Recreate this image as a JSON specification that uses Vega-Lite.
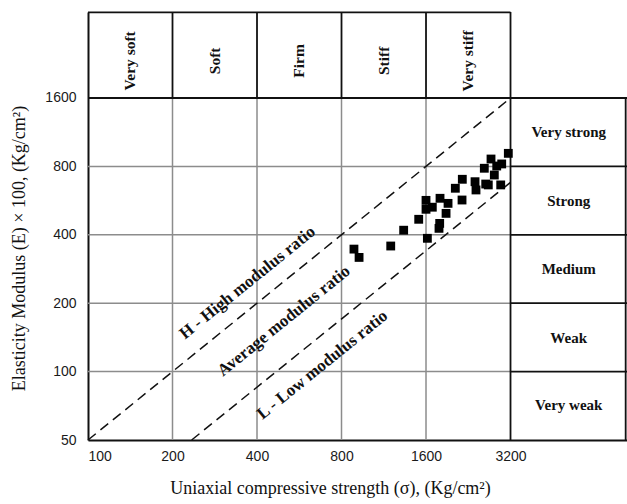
{
  "$schema": "https://vega.github.io/schema/vega-lite/v6.json",
  "width": 539,
  "height": 428,
  "autosize": {"type": "none"},
  "padding": {"left": 88, "top": 12, "right": 0, "bottom": 64},
  "background": "white",
  "config": {"view": {"stroke": null}},
  "datasets": {
    "grid": [
      {"x": 200, "y": 50, "x2": 200, "y2": 1600},
      {"x": 400, "y": 50, "x2": 400, "y2": 1600},
      {"x": 800, "y": 50, "x2": 800, "y2": 1600},
      {"x": 1600, "y": 50, "x2": 1600, "y2": 1600},
      {"x": 100, "y": 100, "x2": 3200, "y2": 100},
      {"x": 100, "y": 200, "x2": 3200, "y2": 200},
      {"x": 100, "y": 400, "x2": 3200, "y2": 400},
      {"x": 100, "y": 800, "x2": 3200, "y2": 800}
    ],
    "frame": [
      {"x": 200, "y": 1600, "x2": 200, "y2": 3824},
      {"x": 400, "y": 1600, "x2": 400, "y2": 3824},
      {"x": 800, "y": 1600, "x2": 800, "y2": 3824},
      {"x": 1600, "y": 1600, "x2": 1600, "y2": 3824},
      {"x": 3200, "y": 50, "x2": 3200, "y2": 3824},
      {"x": 100, "y": 3810, "x2": 3200, "y2": 3810},
      {"x": 100, "y": 1600, "x2": 8320, "y2": 1600},
      {"x": 3200, "y": 800, "x2": 8320, "y2": 800},
      {"x": 3200, "y": 400, "x2": 8320, "y2": 400},
      {"x": 3200, "y": 200, "x2": 8320, "y2": 200},
      {"x": 3200, "y": 100, "x2": 8320, "y2": 100},
      {"x": 8230, "y": 50, "x2": 8230, "y2": 1600}
    ],
    "ratios": [
      {"name": "H", "x": 100, "y": 50, "x2": 3200, "y2": 1600},
      {"name": "L", "x": 234, "y": 50, "x2": 3200, "y2": 680}
    ],
    "points": [
      {"x": 3143, "y": 913}, {"x": 2727, "y": 862}, {"x": 2977, "y": 820},
      {"x": 2858, "y": 803}, {"x": 2581, "y": 785}, {"x": 2802, "y": 733},
      {"x": 2155, "y": 702}, {"x": 2392, "y": 685}, {"x": 2611, "y": 669},
      {"x": 2667, "y": 663}, {"x": 2411, "y": 630}, {"x": 2953, "y": 663},
      {"x": 2035, "y": 641}, {"x": 1600, "y": 567}, {"x": 1795, "y": 579},
      {"x": 1917, "y": 550}, {"x": 2150, "y": 569}, {"x": 1600, "y": 518},
      {"x": 1685, "y": 529}, {"x": 1886, "y": 497}, {"x": 1507, "y": 468},
      {"x": 1790, "y": 449}, {"x": 1780, "y": 427}, {"x": 1332, "y": 419},
      {"x": 1618, "y": 386}, {"x": 1198, "y": 357}, {"x": 886, "y": 346},
      {"x": 924, "y": 318}
    ],
    "lineLabels": [
      {"label": "H - High modulus ratio", "x": 370, "y": 246},
      {"label": "Average modulus ratio", "x": 499, "y": 167},
      {"label": "L - Low modulus ratio", "x": 684, "y": 107}
    ],
    "stiffness": [
      {"label": "Very soft", "x": 141, "y": 2330},
      {"label": "Soft", "x": 283, "y": 2330},
      {"label": "Firm", "x": 566, "y": 2330},
      {"label": "Stiff", "x": 1131, "y": 2330},
      {"label": "Very stiff", "x": 2263, "y": 2330}
    ],
    "strength": [
      {"label": "Very strong", "x": 5158, "y": 1131},
      {"label": "Strong", "x": 5158, "y": 566},
      {"label": "Medium", "x": 5158, "y": 283},
      {"label": "Weak", "x": 5158, "y": 141},
      {"label": "Very weak", "x": 5158, "y": 71}
    ]
  },
  "encoding": {
    "x": {
      "field": "x", "type": "quantitative",
      "scale": {"type": "log", "domain": [100, 8320]},
      "axis": {
        "values": [100, 200, 400, 800, 1600, 3200], "format": "d",
        "grid": false, "ticks": false, "domainColor": "#111", "domainWidth": 2,
        "labelFont": "Liberation Sans", "labelFontSize": 14, "labelColor": "#1a1a1a", "labelPadding": 9,
        "title": "Uniaxial compressive strength (σ), (Kg/cm²)",
        "titleFont": "Liberation Serif", "titleFontSize": 18, "titleFontWeight": "normal", "titleColor": "#111",
        "titleX": 242, "titleY": 48, "titleBaseline": "middle", "titleAlign": "center"
      }
    },
    "y": {
      "field": "y", "type": "quantitative",
      "scale": {"type": "log", "domain": [50, 3824]},
      "axis": {
        "values": [50, 100, 200, 400, 800, 1600], "format": "d",
        "grid": false, "ticks": false, "domainColor": "#111", "domainWidth": 2,
        "labelFont": "Liberation Sans", "labelFontSize": 14, "labelColor": "#1a1a1a", "labelPadding": 12,
        "title": "Elasticity Modulus (E) × 100, (Kg/cm²)",
        "titleFont": "Liberation Serif", "titleFontSize": 18, "titleFontWeight": "normal", "titleColor": "#111",
        "titleX": -69, "titleY": 236, "titleBaseline": "middle", "titleAlign": "center", "titleAngle": -90
      }
    }
  },
  "layer": [
    {
      "data": {"name": "grid"},
      "mark": {"type": "rule", "color": "#8c8c8c", "strokeWidth": 1.5},
      "encoding": {"x2": {"field": "x2"}, "y2": {"field": "y2"}}
    },
    {
      "data": {"name": "frame"},
      "mark": {"type": "rule", "color": "#111", "strokeWidth": 1.8},
      "encoding": {"x2": {"field": "x2"}, "y2": {"field": "y2"}}
    },
    {
      "data": {"name": "ratios"},
      "mark": {"type": "rule", "color": "#111", "strokeWidth": 1.5, "strokeDash": [10, 6]},
      "encoding": {"x2": {"field": "x2"}, "y2": {"field": "y2"}}
    },
    {
      "data": {"name": "points"},
      "mark": {"type": "point", "shape": "square", "filled": true, "color": "#000", "size": 78, "opacity": 1}
    },
    {
      "data": {"name": "lineLabels"},
      "mark": {"type": "text", "font": "Liberation Serif", "fontWeight": "bold", "fontSize": 17, "angle": -39, "align": "center", "baseline": "middle", "color": "#111"},
      "encoding": {"text": {"field": "label"}}
    },
    {
      "data": {"name": "stiffness"},
      "mark": {"type": "text", "font": "Liberation Serif", "fontWeight": "bold", "fontSize": 15.5, "angle": -90, "align": "center", "baseline": "middle", "color": "#111"},
      "encoding": {"text": {"field": "label"}}
    },
    {
      "data": {"name": "strength"},
      "mark": {"type": "text", "font": "Liberation Serif", "fontWeight": "bold", "fontSize": 15, "align": "center", "baseline": "middle", "color": "#111"},
      "encoding": {"text": {"field": "label"}}
    }
  ]
}
